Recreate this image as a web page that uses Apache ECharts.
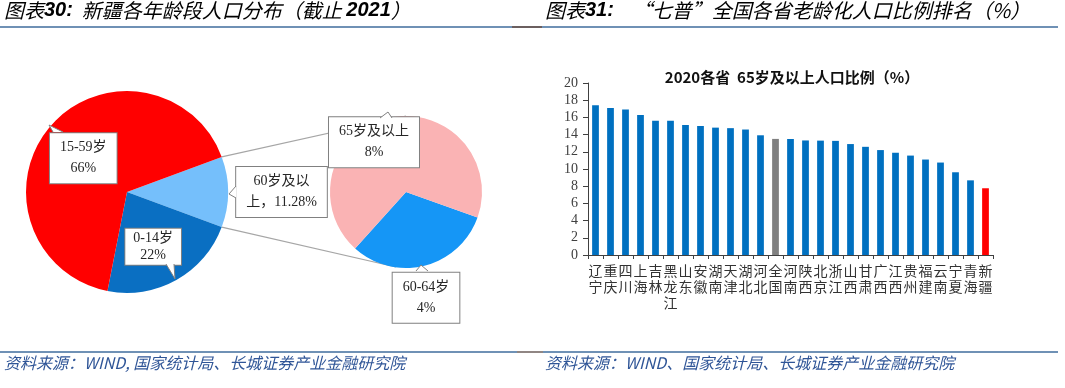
<!DOCTYPE html>
<html><head><meta charset="utf-8">
<script src="https://cdn.jsdelivr.net/npm/echarts@6/dist/echarts.min.js"></script>
<style>html,body{margin:0;padding:0;background:#fff}#c{width:1065px;height:388px}</style>
</head><body><div id="c"></div>
<script>
// ---- data ----
const mainNames = ['60岁及以\n上，11.28%', '0-14岁\n22%', '15-59岁\n66%'];
const mainValues = [11.28, 22.46, 66.26];
const subNames = ['60-64岁\n4%', '65岁及以上\n8%'];
const subValues = [3.52, 7.76];
const provinces = ['辽宁','重庆','四川','上海','吉林','黑龙江','山东','安徽','湖南','天津','湖北','河北','全国','河南','陕西','北京','浙江','山西','甘肃','广西','江西','贵州','福建','云南','宁夏','青海','新疆'];
const ratio65 = [17.42,17.08,16.93,16.28,15.61,15.61,15.13,15.01,14.81,14.75,14.59,13.92,13.50,13.49,13.32,13.30,13.27,12.90,12.58,12.20,11.89,11.56,11.10,10.75,9.62,8.68,7.76];
const yTicks = [0,2,4,6,8,10,12,14,16,18,20];

// ---- geometry of the pies ----
const c1 = [127, 192], r1 = 101;
const c2 = [406, 192], r2 = 76;
const total = mainValues.reduce((a,b)=>a+b,0);
const half = mainValues[0] / total * 180; // half angle of the 60+ slice (deg)
const rad = d => d * Math.PI / 180;
const pUp = [c1[0] + r1*Math.cos(rad(half)), c1[1] - r1*Math.sin(rad(half))];
const pDn = [c1[0] + r1*Math.cos(rad(half)), c1[1] + r1*Math.sin(rad(half))];

const serif = '"Liberation Serif","Noto Sans CJK SC",serif';
const cjk = '"Noto Sans CJK SC",sans-serif';
const titleColor = '#1f4e96';
const lineColor = '#3f6d9c';

const labelBox = {
  show: true, position: 'inside', formatter: '{b}',
  fontFamily: serif, fontSize: 14, lineHeight: 21, color: '#262626',
  backgroundColor: '#fff', borderColor: '#808080', borderWidth: 1,
  padding: [4, 10], align: 'center'
};
const tightLabel = Object.assign({}, labelBox, { lineHeight: 17, padding: [1, 8] });
const mainShift = [[101, 0], [0, 8], [-3, 1]];
const subShift = [[10, 66], [-22, -10]];

// callout tails: [base point A, tip, base point B]
const tails = [
  [[53, 132], [49, 125], [63, 132]],
  [[166, 264], [175, 279], [174, 264]],
  [[236, 186], [229, 194], [236, 198]],
  [[380, 118], [388, 112], [392, 118]],
  [[416, 271], [421, 265], [428, 271]]
];
const tailGraphics = [];
tails.forEach(t => {
  tailGraphics.push({ type: 'polygon', z: 200, shape: { points: t }, style: { fill: '#fff' } });
  tailGraphics.push({ type: 'polyline', z: 201, shape: { points: t }, style: { stroke: '#808080', lineWidth: 1, fill: null } });
});

const titleRich = {
  n: { fontFamily: cjk, fontStyle: 'italic', fontSize: 20, color: titleColor },
  b: { fontFamily: '"Liberation Sans",sans-serif', fontStyle: 'italic', fontWeight: 'bold', fontSize: 20, color: titleColor }
};

const chart = echarts.init(document.getElementById('c'));
chart.setOption({
  animation: false,
  title: {
    text: '2020各省  65岁及以上人口比例（%）',
    left: 787, top: 65, textAlign: 'center',
    textStyle: { fontFamily: cjk, fontWeight: 'bold', fontSize: 15, color: '#111' }
  },
  grid: { left: 588, top: 83, width: 405, height: 172 },
  xAxis: {
    type: 'category',
    data: provinces.map(p => p.split('').join('\n')),
    axisLine: { lineStyle: { color: '#404040' } },
    axisTick: { show: true, length: 4, lineStyle: { color: '#404040' } },
    axisLabel: { interval: 0, fontFamily: cjk, fontSize: 14, lineHeight: 16, color: '#333', margin: 8 }
  },
  yAxis: {
    type: 'value', min: yTicks[0], max: yTicks[yTicks.length-1], interval: yTicks[1]-yTicks[0],
    axisLine: { show: true, lineStyle: { color: '#404040' } },
    axisTick: { show: true, length: 5, lineStyle: { color: '#404040' } },
    splitLine: { show: false },
    axisLabel: { fontFamily: serif, fontSize: 14, color: '#404040', margin: 10 }
  },
  series: [
    {
      type: 'bar', barWidth: '45%',
      data: ratio65.map((v, i) => ({
        value: v,
        itemStyle: { color: provinces[i] === '全国' ? '#808080' : (provinces[i] === '新疆' ? '#ff0000' : '#0070c0') }
      }))
    },
    {
      type: 'pie', center: c1, radius: r1, startAngle: half, clockwise: true,
      data: mainValues.map((v, i) => ({ name: mainNames[i], value: v, label: i === 1 ? tightLabel : labelBox })),
      color: ['#75bffb', '#0a6fc2', '#ff0000'],
      label: labelBox, labelLine: { show: false },
      labelLayout: p => ({ dx: mainShift[p.dataIndex][0], dy: mainShift[p.dataIndex][1] }),
      emphasis: { disabled: true }
    },
    {
      type: 'pie', center: c2, radius: r2, startAngle: -19.7, clockwise: true,
      data: subValues.map((v, i) => ({ name: subNames[i], value: v })),
      color: ['#1596f6', '#fab3b4'],
      label: labelBox, labelLine: { show: false },
      labelLayout: p => ({ dx: subShift[p.dataIndex][0], dy: subShift[p.dataIndex][1] }),
      emphasis: { disabled: true }
    }
  ],
  graphic: [
    { type: 'line', z: 0, shape: { x1: pUp[0], y1: pUp[1], x2: c2[0], y2: c2[1]-r2 }, style: { stroke: '#a6a6a6', lineWidth: 1.2 } },
    { type: 'line', z: 0, shape: { x1: pDn[0], y1: pDn[1], x2: c2[0]-10, y2: c2[1]+r2-1 }, style: { stroke: '#a6a6a6', lineWidth: 1.2 } },
    { type: 'text', left: 4, top: 0, style: { text: '{n|图表}{b|30:}{n|  新疆各年龄段人口分布（截止 }{b|2021}{n|）}', rich: titleRich } },
    { type: 'text', left: 545, top: 0, style: { text: '{n|图表}{b|31:}{n|    “七普”全国各省老龄化人口比例排名（%）}', rich: titleRich } },
    { type: 'line', shape: { x1: 0, y1: 27, x2: 512, y2: 27 }, style: { stroke: lineColor, lineWidth: 1.5 } },
    { type: 'line', shape: { x1: 512, y1: 27, x2: 542, y2: 27 }, style: { stroke: '#3a2a2a', lineWidth: 1.5 } },
    { type: 'line', shape: { x1: 542, y1: 27, x2: 1058, y2: 27 }, style: { stroke: lineColor, lineWidth: 1.5 } },
    { type: 'line', shape: { x1: 0, y1: 352, x2: 517, y2: 352 }, style: { stroke: lineColor, lineWidth: 1.5 } },
    { type: 'line', shape: { x1: 517, y1: 352, x2: 543, y2: 352 }, style: { stroke: '#6b5e5a', lineWidth: 1.5 } },
    { type: 'line', shape: { x1: 543, y1: 352, x2: 1058, y2: 352 }, style: { stroke: lineColor, lineWidth: 1.5 } },
    { type: 'text', left: 4, top: 355, style: { text: '资料来源：WIND, 国家统计局、长城证券产业金融研究院', fontFamily: cjk, fontStyle: 'italic', fontSize: 16, fill: '#2f5597' } },
    { type: 'text', left: 545, top: 355, style: { text: '资料来源：WIND、国家统计局、长城证券产业金融研究院', fontFamily: cjk, fontStyle: 'italic', fontSize: 16, fill: '#2f5597' } }
  ].concat(tailGraphics)
});
</script></body></html>
